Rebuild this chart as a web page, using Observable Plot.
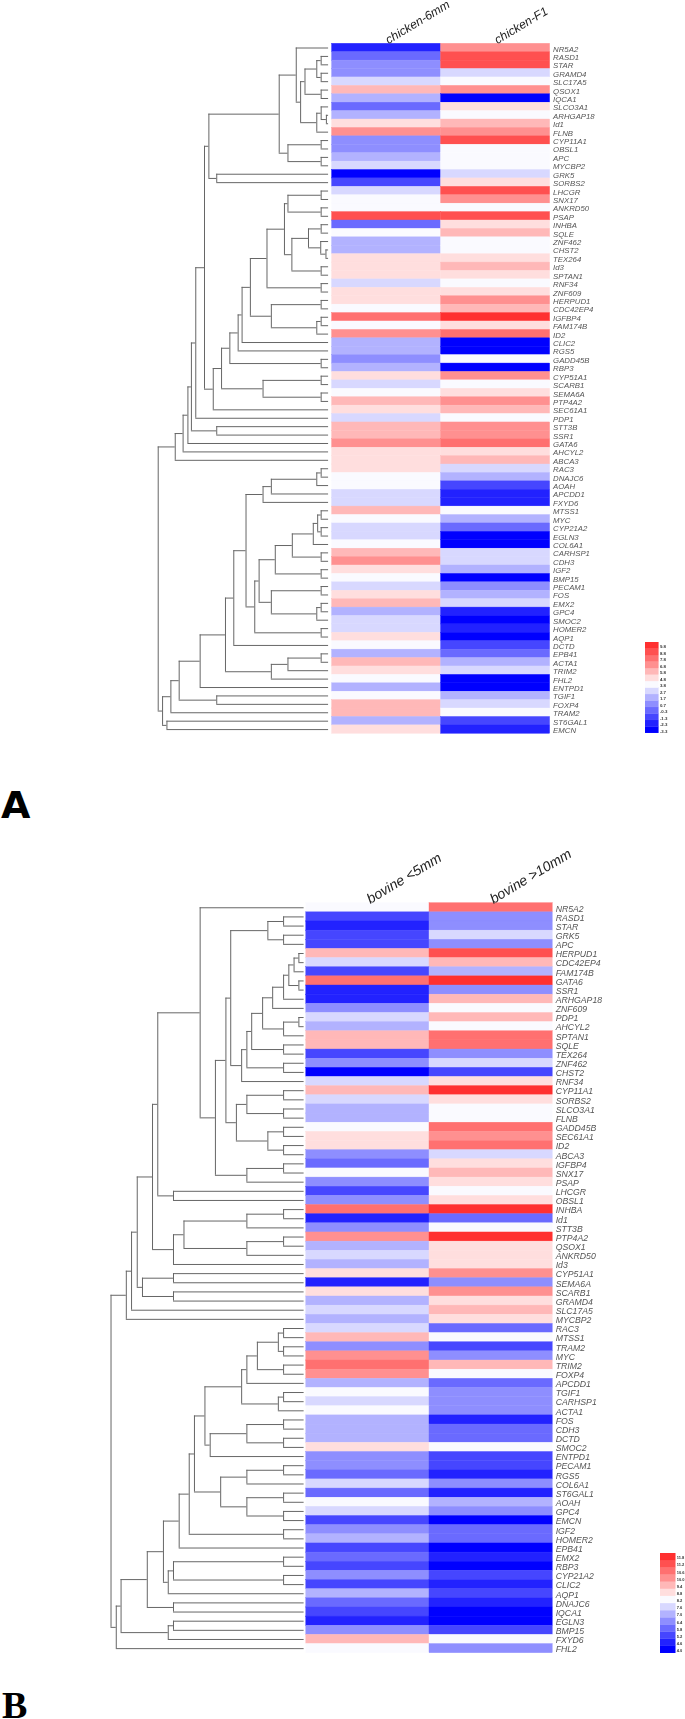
<!DOCTYPE html>
<html><head><meta charset="utf-8">
<script src="https://cdn.jsdelivr.net/npm/d3@7"></script>
<script src="https://cdn.jsdelivr.net/npm/@observablehq/plot@0.6"></script>
<style>
html,body{margin:0;padding:0;background:#fff}
#page{position:relative;width:685px;height:1719px;overflow:hidden;background:#fff}
#page svg{position:absolute;filter:blur(0.45px);background:transparent;max-width:none}
.tag{position:absolute;color:#000}
</style></head><body><div id="page">
<div class="tag" style="left:1px;top:788px;height:34px;font:bold 38px/34px 'DejaVu Sans'">A</div>
<div class="tag" style="left:2px;top:1691px;height:28px;font:bold 38px/28px 'Liberation Serif'">B</div>
</div>
<script>
// colour levels shared by both heat maps (index 0 = lowest)
const palette=["#0000ff","#2222ff","#4646ff","#6a6aff","#8e8eff","#b2b2ff","#d8d8ff","#fafaff","#ffdede","#ffb8b8","#ff9090","#ff7070","#ff5050","#ff3030"];
const legendA=["-3.3","-2.3","-1.3","-0.3","0.7","1.7","2.7","3.8","4.8","5.8","6.8","7.8","8.8","9.8"];
const legendB=["4.0","4.6","5.2","5.8","6.4","7.0","7.6","8.2","8.8","9.4","10.0","10.6","11.2","11.8"];

const genesA=["NR5A2","RASD1","STAR","GRAMD4","SLC17A5","QSOX1","IQCA1","SLCO3A1","ARHGAP18","Id1","FLNB","CYP11A1","OBSL1","APC","MYCBP2","GRK5","SORBS2","LHCGR","SNX17","ANKRD50","PSAP","INHBA","SQLE","ZNF462","CHST2","TEX264","Id3","SPTAN1","RNF34","ZNF609","HERPUD1","CDC42EP4","IGFBP4","FAM174B","ID2","CLIC2","RGS5","GADD45B","RBP3","CYP51A1","SCARB1","SEMA6A","PTP4A2","SEC61A1","PDP1","STT3B","SSR1","GATA6","AHCYL2","ABCA3","RAC3","DNAJC6","AOAH","APCDD1","FXYD6","MTSS1","MYC","CYP21A2","EGLN3","COL6A1","CARHSP1","CDH3","IGF2","BMP15","PECAM1","FOS","EMX2","GPC4","SMOC2","HOMER2","AQP1","DCTD","EPB41","ACTA1","TRIM2","FHL2","ENTPD1","TGIF1","FOXP4","TRAM2","ST6GAL1","EMCN"];
const chicken6mm=[1,3,4,4,6,9,5,3,5,8,10,4,4,5,6,0,2,6,7,7,12,3,7,5,5,8,8,8,6,8,8,7,11,7,10,5,5,4,5,8,6,7,9,8,6,9,9,10,8,8,8,7,7,6,6,9,7,6,6,7,9,10,8,7,6,8,9,5,6,6,8,7,5,9,8,7,5,7,9,9,5,8];
const chickenF1=[10,12,12,6,7,10,0,8,7,9,10,12,7,7,7,6,8,12,10,7,12,8,9,7,7,8,9,8,7,8,10,9,13,8,11,0,0,7,0,10,7,8,10,9,7,10,10,11,8,9,6,5,2,1,1,7,5,3,0,0,6,6,5,0,4,5,6,1,0,1,0,2,3,5,6,0,0,5,6,7,2,1];

const genesB=["NR5A2","RASD1","STAR","GRK5","APC","HERPUD1","CDC42EP4","FAM174B","GATA6","SSR1","ARHGAP18","ZNF609","PDP1","AHCYL2","SPTAN1","SQLE","TEX264","ZNF462","CHST2","RNF34","CYP11A1","SORBS2","SLCO3A1","FLNB","GADD45B","SEC61A1","ID2","ABCA3","IGFBP4","SNX17","PSAP","LHCGR","OBSL1","INHBA","Id1","STT3B","PTP4A2","QSOX1","ANKRD50","Id3","CYP51A1","SEMA6A","SCARB1","GRAMD4","SLC17A5","MYCBP2","RAC3","MTSS1","TRAM2","MYC","TRIM2","FOXP4","APCDD1","TGIF1","CARHSP1","ACTA1","FOS","CDH3","DCTD","SMOC2","ENTPD1","PECAM1","RGS5","COL6A1","ST6GAL1","AOAH","GPC4","EMCN","IGF2","HOMER2","EPB41","EMX2","RBP3","CYP21A2","CLIC2","AQP1","DNAJC6","IQCA1","EGLN3","BMP15","FXYD6","FHL2"];
const bovineLt5=[7,2,1,2,2,9,6,2,11,1,1,4,6,5,9,9,2,4,0,6,9,6,5,5,7,8,8,4,3,7,4,2,4,11,1,4,10,5,6,5,8,1,8,5,6,5,6,9,4,10,11,10,5,7,6,7,5,5,5,8,4,4,3,6,3,7,6,2,4,5,2,3,2,4,2,5,3,2,1,4,9,7];
const bovineGt10=[11,4,4,6,4,12,9,5,13,4,9,7,9,7,11,11,4,6,2,8,13,8,7,7,11,10,11,6,8,9,8,7,8,13,3,7,13,8,8,8,10,4,10,8,9,8,3,7,2,4,9,7,3,4,4,4,1,3,3,7,2,2,1,4,1,5,4,0,3,3,0,1,0,2,1,2,1,0,0,2,7,4];

// dendrogram merges: [merge position read along the picture's width, upper child, lower child]
const treeA=[361,
 [400,[418,[429,[437,[447,[467,
   [477,[638,[677,"NR5A2",[687,[697,[724,[734,"RASD1","STAR"],[734,"GRAMD4","SLC17A5"]],[734,"QSOX1","IQCA1"]],[724,[734,"SLCO3A1",[746,"ARHGAP18","Id1"]],"FLNB"]]],
          [658,[734,"CYP11A1","OBSL1"],[734,"APC","MYCBP2"]]],
        [495,"GRK5","SORBS2"]],
   [487,[506,[525,[544,[553,[572,
        [610,[650,[658,[734,"LHCGR","SNX17"],[734,"ANKRD50","PSAP"]],
                  [667,[705,[734,"INHBA","SQLE"],[733,"ZNF462",[745,"CHST2","TEX264"]]],[734,"Id3","SPTAN1"]]],
             [734,"RNF34","ZNF609"]],
        [620,[734,"HERPUD1","CDC42EP4"],[724,[734,"IGFBP4","FAM174B"],"ID2"]]],
       "CLIC2"],"RGS5"],[734,"GADD45B","RBP3"]],
      [601,[734,"CYP51A1","SCARB1"],[734,"SEMA6A","PTP4A2"]]],"SEC61A1"]],
  "PDP1"],[495,"STT3B","SSR1"]],"GATA6"],"AHCYL2"],"ABCA3"],
 [371,[390,[409,[457,[515,[534,[562,
      [601,[620,[724,[734,"RAC3","DNAJC6"],"AOAH"],"APCDD1"],"FXYD6"],
      [582,[592,[629,[668,[716,[726,[734,"MTSS1","MYC"],[734,"CYP21A2","EGLN3"]],"COL6A1"],[734,"CARHSP1","CDH3"]],[734,"IGF2","BMP15"]],
                [620,[734,"PECAM1","FOS"],[724,[734,"EMX2","GPC4"],"SMOC2"]]],
           [734,"HOMER2","AQP1"]]],"DCTD"],
     [620,[658,[734,"EPB41","ACTA1"],"TRIM2"],"FHL2"]],"ENTPD1"],
    [495,"TGIF1","FOXP4"]],"TRAM2"],[381,"ST6GAL1","EMCN"]]];

const treeB=[253,
 [288,[300,[313,
   [348,[360,[457,"NR5A2",
        [492,[516,[527,[612,[648,"RASD1","STAR"],[648,"GRK5","APC"]],
              [552,[564,[575,[600,[623,[648,[660,[672,[683,"HERPUD1","CDC42EP4"],"FAM174B"],[683,"GATA6","SSR1"]],"ARHGAP18"],"ZNF609"],
                         [648,[683,"PDP1","AHCYL2"],"SPTAN1"]],[648,"SQLE","TEX264"]],[648,"ZNF462","CHST2"]],"RNF34"]],
             [540,[564,[648,"CYP11A1","SORBS2"],[648,"SLCO3A1","FLNB"]],[612,[648,"GADD45B","SEC61A1"],[648,"ID2","ABCA3"]]]],
         [564,[648,"IGFBP4","SNX17"],"PSAP"]]],
       [396,"LHCGR","OBSL1"]],
    [396,[420,[564,[648,"INHBA","Id1"],"STT3B"],[564,[648,"PTP4A2","QSOX1"],"ANKRD50"]],"Id3"]],
   [325,[396,"CYP51A1","SEMA6A"],[396,"SCARB1","GRAMD4"]]],"SLC17A5"],"MYCBP2"],
 [265,[276,[336,[373,[409,[432,[444,
        [468,[552,[564,[588,[636,[648,"RAC3","MTSS1"],[648,"TRAM2","MYC"]],[648,"TRIM2","FOXP4"]],"APCDD1"],[636,[648,"TGIF1","CARHSP1"],"ACTA1"]],
             [480,[564,[648,"FOS","CDH3"],[648,"DCTD","SMOC2"]],"ENTPD1"]],
        [504,[564,[648,"PECAM1","RGS5"],"COL6A1"],[564,[648,"ST6GAL1","AOAH"],[648,"GPC4","EMCN"]]]],
       [648,"IGF2","HOMER2"]],"EPB41"],
      [384,[396,[648,"EMX2","RBP3"],[648,"CYP21A2","CLIC2"]],"AQP1"]],
     [396,"DNAJC6","IQCA1"]],
    [384,[396,"EGLN3","BMP15"],"FXYD6"]],"FHL2"]];

const page=document.getElementById("page");
function place(svg,top,left=0){svg.style.top=top+"px";svg.style.left=left+"px";page.appendChild(svg);}

function heat({genes,cols,values,legend,top,height,marginTop,marginBottom,left,right,labelSize,colSize}){
  const data=genes.flatMap((g,i)=>cols.map((c,j)=>({gene:g,col:c,v:legend[values[j][i]]})));
  place(Plot.plot({
    width:685,height,marginTop,marginBottom,marginLeft:left,marginRight:685-right,
    x:{domain:cols,padding:0,round:false,axis:null},
    y:{domain:genes,padding:0,round:false,axis:null},
    color:{type:"ordinal",domain:legend,range:palette},
    marks:[
      Plot.cell(data,{x:"col",y:"gene",fill:"v",stroke:"v",strokeWidth:0.4}),
      Plot.axisY({anchor:"right",tickSize:0,tickPadding:3,fontSize:labelSize,fontStyle:"italic",fontFamily:"Liberation Sans",fill:"#555",dy:1,label:null}),
      Plot.axisX({anchor:"top",tickSize:0,tickPadding:3,tickRotate:-31,fontSize:colSize,fontStyle:"italic",fontFamily:"Liberation Sans",fill:"#222",label:null})
    ]
  }),top);
}
function tree({root,genes,tip,top,height,marginTop,marginBottom}){
  const hs=[],vs=[];
  (function walk(n){
    if(typeof n==="string")return{x:tip,y:genes.indexOf(n)+0.5};
    const[x,a,b]=n,l=walk(a),r=walk(b);
    vs.push({x,y1:l.y,y2:r.y});
    hs.push({y:l.y,x1:x,x2:l.x},{y:r.y,x1:x,x2:r.x});
    return{x,y:(l.y+r.y)/2};
  })(root);
  place(Plot.plot({
    width:685,height,marginTop,marginBottom,marginLeft:0,marginRight:0,
    x:{domain:[0,1568],range:[0,685],axis:null},
    y:{domain:[0,genes.length],reverse:true,axis:null},
    marks:[
      Plot.ruleX(vs,{x:"x",y1:"y1",y2:"y2",stroke:"#666",strokeWidth:1}),
      Plot.ruleY(hs,{y:"y",x1:"x1",x2:"x2",stroke:"#666",strokeWidth:1})
    ]
  }),top);
}
function key({legend,top,left,w,h,fontSize}){
  const dom=[...legend].reverse();
  place(Plot.plot({
    width:w+10,height:h,marginTop:0,marginBottom:0,marginLeft:0,marginRight:10,
    x:{domain:["k"],padding:0,round:false,axis:null},
    y:{domain:dom,padding:0,round:false,axis:null},
    color:{type:"ordinal",domain:legend,range:palette},
    marks:[
      Plot.cell(legend,{x:()=>"k",y:d=>d,fill:d=>d,stroke:d=>d,strokeWidth:0.3}),
      Plot.axisY({anchor:"right",tickSize:0,tickPadding:1,fontSize,fontFamily:"Liberation Sans",fontWeight:"bold",fill:"#333",dy:1,label:null})
    ]
  }),top,left);
}

heat({genes:genesA,cols:["chicken-6mm","chicken-F1"],values:[chicken6mm,chickenF1],legend:legendA,top:-10,height:745,marginTop:53.3,marginBottom:1.7,left:331.6,right:549.6,labelSize:7.8,colSize:12.2});
tree({root:treeA,genes:genesA,tip:751,top:0,height:735,marginTop:43.3,marginBottom:1.7});
key({legend:legendA,top:642.3,left:645,w:13.4,h:91,fontSize:4.4});

heat({genes:genesB,cols:["bovine <5mm","bovine >10mm"],values:[bovineLt5,bovineGt10],legend:legendB,top:830,height:825,marginTop:72.7,marginBottom:2.3,left:305.8,right:552.2,labelSize:8.7,colSize:14});
tree({root:treeB,genes:genesB,tip:695,top:830,height:825,marginTop:72.7,marginBottom:2.3});
key({legend:legendB,top:1552.7,left:659.7,w:15.3,h:100,fontSize:4});
</script></body></html>
